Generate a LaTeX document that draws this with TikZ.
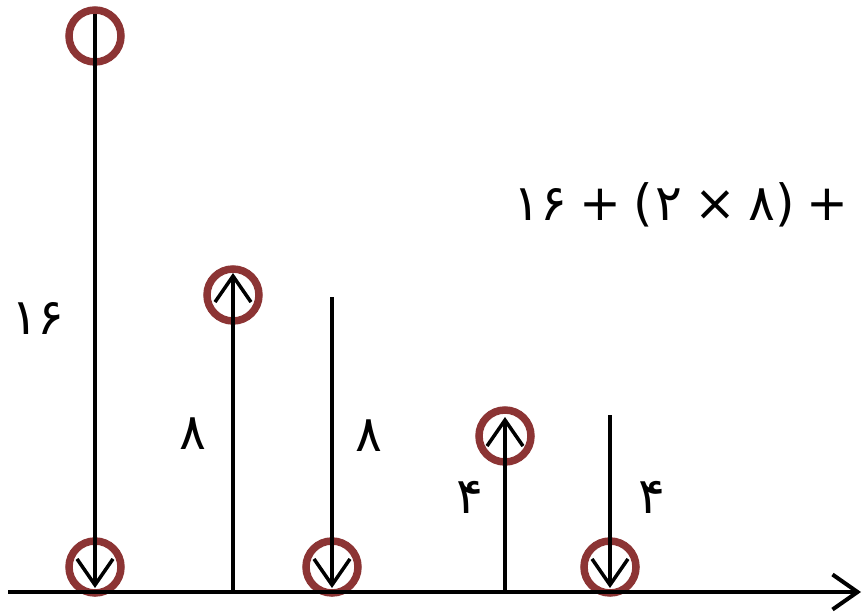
\documentclass[tikz,border=0pt]{standalone}
\usepackage{fontspec}
\newfontfamily\fa[Script=Arabic]{DejaVu Sans}
\newfontfamily\fb{DejaVu Sans}
\usetikzlibrary{arrows.meta}
\definecolor{ringred}{RGB}{140,52,52}
\begin{document}
\begin{tikzpicture}[x=1pt,y=-1pt,
  ring/.style={circle,draw=ringred,line width=7.5pt,minimum size=52pt,inner sep=0pt},
  vec/.style={line width=3.5pt,-{Straight Barb[length=26pt,width=36pt,line width=3.5pt]}},
  lab/.style={font=\fa\fontsize{50}{50}\selectfont,inner sep=0pt}]
\useasboundingbox[fill=white] (0,0) rectangle (865,613);
% circles
\node[ring] (c1t) at (95,36) {};
\node[ring] (c1b) at (95,567) {};
\node[ring] (c2) at (233,295) {};
\node[ring] (c3) at (332,567) {};
\node[ring] (c4) at (505,436) {};
\node[ring] (c5) at (610,567) {};
% coordinates
\coordinate (a0) at (8,592);
\coordinate (a1) at (861,592);
\coordinate (l1s) at (95,14);   \coordinate (l1e) at (95,588);
\coordinate (l2s) at (233,592); \coordinate (l2e) at (233,273);
\coordinate (l3s) at (332,297); \coordinate (l3e) at (332,588);
\coordinate (l4s) at (505,592); \coordinate (l4e) at (505,417);
\coordinate (l5s) at (610,415); \coordinate (l5e) at (610,588);
% axis
\draw[line width=4pt,-{Straight Barb[length=25pt,width=35pt,line width=4pt]}] (a0) -- (a1);
% vectors
\draw[vec] (l1s) -- (l1e);
\draw[vec] (l2s) -- (l2e);
\draw[vec] (l3s) -- (l3e);
\draw[vec] (l4s) -- (l4e);
\draw[vec] (l5s) -- (l5e);
% labels
\node[lab] (t16) at (38,318) {۱۶};
\node[lab] (t8a) at (193,434) {۸};
\node[lab] (t8b) at (369,436) {۸};
\node[lab] (t4a) at (470,497) {۴};
\node[lab] (t4b) at (652,497) {۴};
\node[lab,font=\fb\fontsize{50}{50}\selectfont] (sum) at (681,205)
  {{\fa ۱۶}\hspace{12pt}+\hspace{12pt}(\hspace{3pt}{\fa ۲}\hspace{12pt}×\hspace{12pt}{\fa ۸})\hspace{12pt}+};
\end{tikzpicture}
\end{document}
